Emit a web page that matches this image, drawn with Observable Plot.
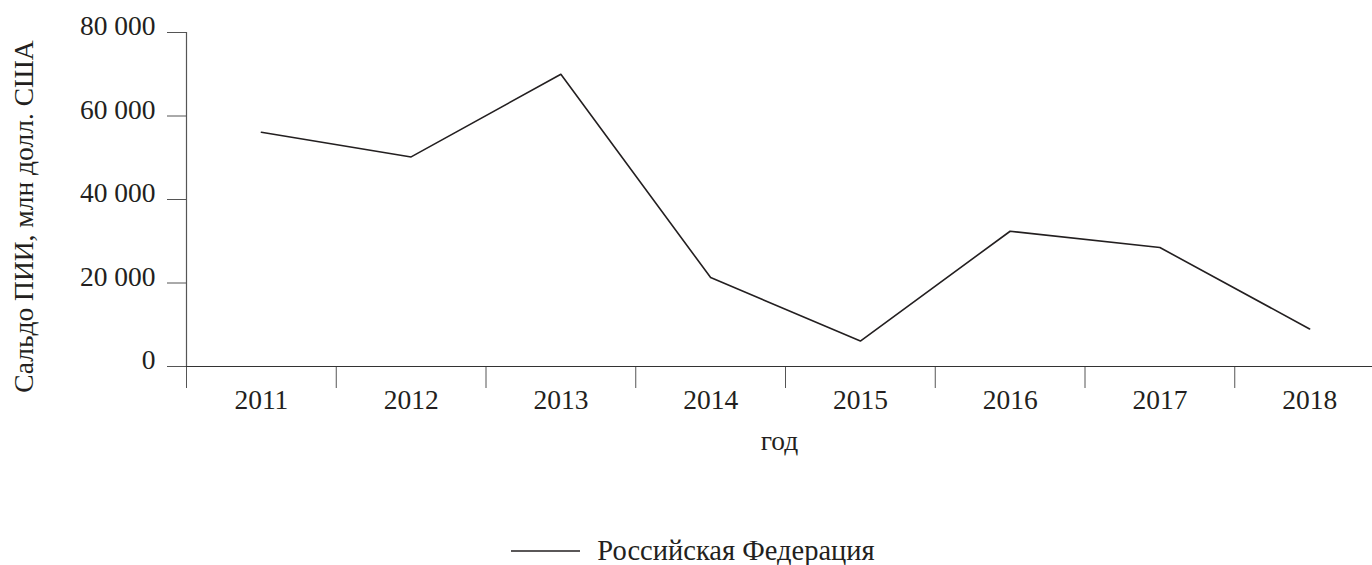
<!DOCTYPE html>
<html>
<head>
<meta charset="utf-8">
<script src="https://cdn.jsdelivr.net/npm/d3@7"></script>
<script src="https://cdn.jsdelivr.net/npm/@observablehq/plot@0.6"></script>
<style>
  html, body { margin: 0; padding: 0; background: #fff; }
  body { width: 1372px; height: 565px; overflow: hidden; font-family: "Liberation Serif", "Times New Roman", serif; color: #231f20; }
  #legend { display: flex; justify-content: center; align-items: center; gap: 17px; font-size: 28.5px; line-height: 30px; margin-top: 66px; padding-left: 14px; }
  #legend svg { display: block; }
</style>
</head>
<body>
<div id="chart"></div>
<div id="legend"></div>
<script>
// ---- data ----
const years = [2011, 2012, 2013, 2014, 2015, 2016, 2017, 2018];
const values = [56100, 50200, 70000, 21300, 6100, 32400, 28500, 9000];
const yTicks = [0, 20000, 40000, 60000, 80000];
const seriesName = "Российская Федерация";
const yLabel = "Сальдо ПИИ, млн долл. США";
const xLabel = "год";

const data = years.map((year, i) => ({year, value: values[i]}));
const bounds = [...years.map(y => y - 0.5), years[years.length - 1] + 0.5];
const fmt = d3.formatLocale({decimal: ",", thousands: " ", grouping: [3], currency: ["", ""]}).format(",");

const chart = Plot.plot({
  width: 1372,
  height: 470,
  marginLeft: 186,
  marginRight: 0,
  marginTop: 32,
  marginBottom: 104,
  style: {fontFamily: '"Liberation Serif", "Times New Roman", serif', fontSize: "27.5px", color: "#231f20", background: "#fff", overflow: "visible"},
  x: {domain: [bounds[0], bounds[bounds.length - 1]], range: [186, 1384]},
  y: {domain: [0, 80000]},
  marks: [
    Plot.axisY({ticks: yTicks, tickSize: 19, text: null, stroke: "#555", label: null}),
    Plot.axisY({ticks: yTicks, tickSize: 0, tickPadding: 31, dy: -6, tickFormat: fmt, label: null}),
    Plot.text([yLabel], {text: d => d, frameAnchor: "left", rotate: -90, textAnchor: "middle", lineAnchor: "top", dx: -173, dy: 17, fill: "#231f20"}),
    Plot.axisX({ticks: bounds, tickSize: 22, tickFormat: () => "", stroke: "#555", label: null}),
    Plot.axisX({ticks: years, tickSize: 0, tickPadding: 23, tickFormat: d => String(d),
      label: xLabel, labelAnchor: "center", labelOffset: 83, labelArrow: "none"}),
    Plot.ruleX([bounds[0]], {stroke: "#555", strokeWidth: 1.2}),
    Plot.ruleY([0], {stroke: "#333", strokeWidth: 1.2}),
    Plot.line(data, {x: "year", y: "value", stroke: "#231f20", strokeWidth: 1.6})
  ]
});
document.getElementById("chart").append(chart);

const legend = document.getElementById("legend");
legend.innerHTML = `<svg width="69" height="4"><line x1="0" x2="69" y1="2" y2="2" stroke="#231f20" stroke-width="1.6"/></svg><span>${seriesName}</span>`;
</script>
</body>
</html>
